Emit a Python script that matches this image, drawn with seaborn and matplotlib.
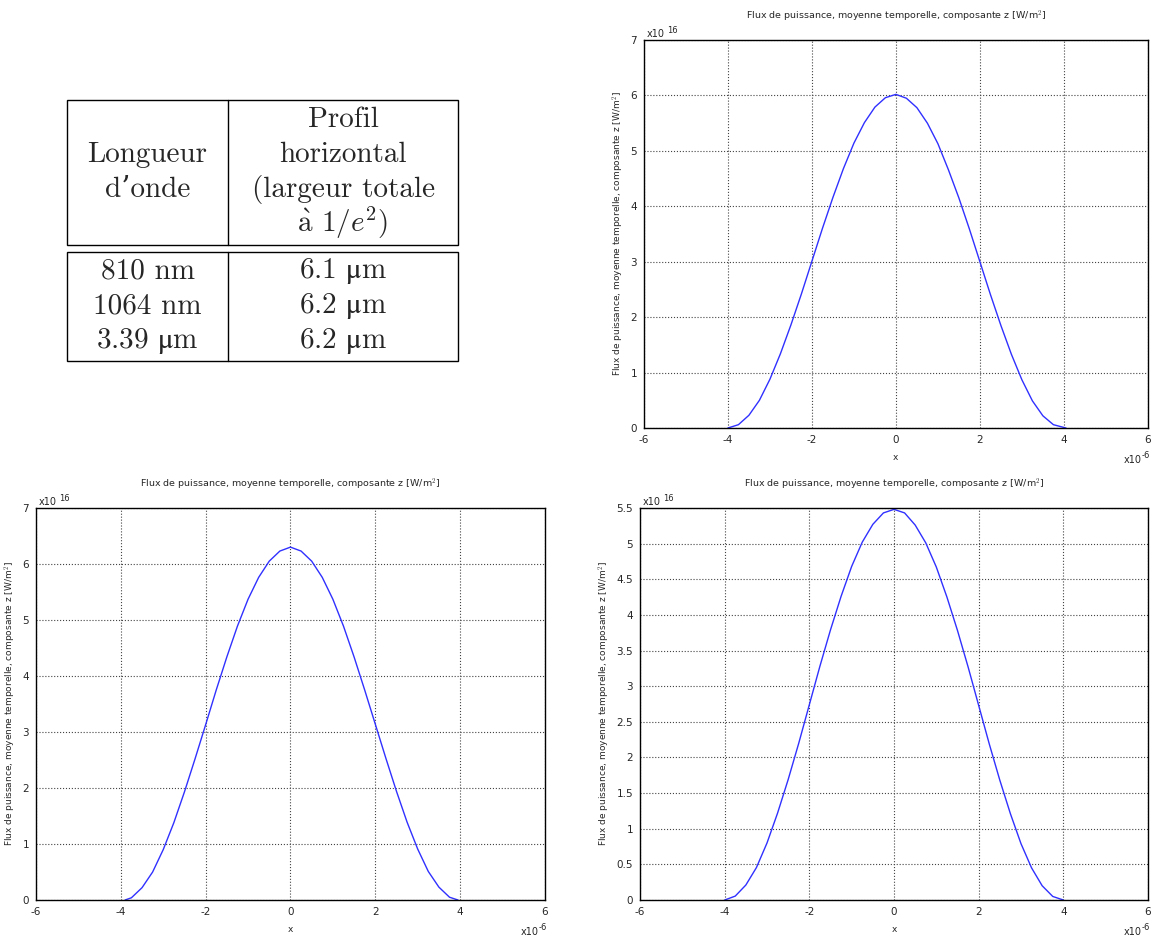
import numpy as np
import pandas as pd
import seaborn as sns
import matplotlib.pyplot as plt

# table content
col_headers = [["Longueur", "d\u2019onde"],
               ["Profil", "horizontal", "(largeur totale", "$\\grave{\\mathrm{a}}$ 1/$e^2$)"]]
wavelengths = ["810 nm", "1064 nm", "3.39 $\\mathrm{\\mu}$m"]
widths = ["6.1 $\\mathrm{\\mu}$m", "6.2 $\\mathrm{\\mu}$m", "6.2 $\\mathrm{\\mu}$m"]

# profiles (x in 1e-6 m, flux in 1e16 W/m^2)
x_a = [-4, -3.75, -3.5, -3.25, -3, -2.75, -2.5, -2.25, -2, -1.75, -1.5, -1.25, -1, -0.75, -0.5, -0.25, 0,
       0.25, 0.5, 0.75, 1, 1.25, 1.5, 1.75, 2, 2.25, 2.5, 2.75, 3, 3.25, 3.5, 3.75, 4.05]
flux_a = [0, 0.06, 0.23, 0.50, 0.88, 1.34, 1.86, 2.42, 3.01, 3.60, 4.16, 4.68, 5.14, 5.51, 5.79, 5.96, 6.02,
          5.95, 5.78, 5.50, 5.13, 4.66, 4.15, 3.59, 3.00, 2.41, 1.85, 1.33, 0.87, 0.49, 0.22, 0.06, 0]

x_b = [-3.9, -3.75, -3.5, -3.25, -3, -2.75, -2.5, -2.25, -2, -1.75, -1.5, -1.25, -1, -0.75, -0.5, -0.25, 0,
       0.25, 0.5, 0.75, 1, 1.25, 1.5, 1.75, 2, 2.25, 2.5, 2.75, 3, 3.25, 3.5, 3.75, 3.95]
flux_b = [0, 0.04, 0.22, 0.50, 0.90, 1.38, 1.93, 2.52, 3.13, 3.75, 4.34, 4.89, 5.37, 5.76, 6.05, 6.23, 6.30,
          6.23, 6.05, 5.76, 5.37, 4.89, 4.34, 3.75, 3.14, 2.53, 1.94, 1.39, 0.91, 0.51, 0.23, 0.05, 0]

x_c = [-4, -3.75, -3.5, -3.25, -3, -2.75, -2.5, -2.25, -2, -1.75, -1.5, -1.25, -1, -0.75, -0.5, -0.25, 0,
       0.25, 0.5, 0.75, 1, 1.25, 1.5, 1.75, 2, 2.25, 2.5, 2.75, 3, 3.25, 3.5, 3.75, 4]
flux_c = [0, 0.055, 0.21, 0.455, 0.80, 1.22, 1.69, 2.20, 2.74, 3.28, 3.79, 4.26, 4.68, 5.02, 5.27, 5.43, 5.48,
          5.43, 5.26, 5.01, 4.67, 4.25, 3.78, 3.27, 2.73, 2.19, 1.68, 1.21, 0.79, 0.45, 0.20, 0.05, 0]

xticks = [-6, -4, -2, 0, 2, 4, 6]
title = "Flux de puissance, moyenne temporelle, composante z [W/m$^2$]"

sns.set_style("white")
plt.rcParams['font.family'] = ['DejaVu Sans']
plt.rcParams['mathtext.fontset'] = 'cm'

fig = plt.figure(figsize=(11.54, 9.38), dpi=100)

# table
tax = fig.add_axes([0.0581, 0.6151, 0.3388, 0.2783])
tax.set_xlim(0, 1)
tax.set_ylim(0, 1)
tax.axis('off')
tfam = ['cmr10', 'DejaVu Serif']
tkw = dict(ha='center', va='baseline', fontsize=21, family=tfam, math_fontfamily='stix')
tax.add_patch(plt.Rectangle((0, 0.444), 1, 0.556, fill=False, lw=1, ec='black', clip_on=False))
tax.add_patch(plt.Rectangle((0, 0), 1, 0.418, fill=False, lw=1, ec='black', clip_on=False))
tax.plot([0.412, 0.412], [0.444, 1], color='black', lw=1, clip_on=False)
tax.plot([0.412, 0.412], [0, 0.418], color='black', lw=1, clip_on=False)
step = 0.1341
for i, line in enumerate(col_headers[0]):
    tax.text(0.206, 0.7636 - i * step, line, **tkw)
for i, line in enumerate(col_headers[1]):
    kw = dict(tkw)
    if '$e' in line:
        kw['math_fontfamily'] = 'cm'
    tax.text(0.706, 0.8977 - i * step, line, **kw)
for i, (wl, wd) in enumerate(zip(wavelengths, widths)):
    tax.text(0.206, 0.3169 - i * step, wl, **tkw)
    tax.text(0.706, 0.3169 - i * step, wd, **tkw)

panels = [
    ([0.558, 0.5437, 0.4367, 0.4136], x_a, flux_a, 7, list(range(0, 8))),
    ([0.0312, 0.0405, 0.441, 0.418], x_b, flux_b, 7, list(range(0, 8))),
    ([0.5546, 0.0405, 0.4402, 0.418], x_c, flux_c, 5.5, [i * 0.5 for i in range(12)]),
]

for pos, xs, ys, ymax, yticks in panels:
    ax = fig.add_axes(pos)
    df = pd.DataFrame({"x": xs, "flux": ys})
    sns.lineplot(data=df, x="x", y="flux", ax=ax, color='#3030ff', lw=1)
    ax.set_xlim(-6, 6)
    ax.set_ylim(0, ymax)
    ax.set_xticks(xticks)
    ax.set_yticks(yticks)
    ax.set_yticklabels([f"{t:g}" for t in yticks])
    ax.set_xticklabels([str(t) for t in xticks])
    ax.grid(True, linestyle=':', color='#444444', lw=0.8)
    ax.tick_params(length=0, labelsize=7.5, pad=5)
    for s in ax.spines.values():
        s.set_color('black')
        s.set_linewidth(1)
    ax.set_title(title, fontsize=6.8, pad=15)
    ax.set_xlabel("x", fontsize=6.5, labelpad=6)
    ax.set_ylabel(title, fontsize=6.5, labelpad=3)
    ax.text(0.005, 1.003, "x10", transform=ax.transAxes, fontsize=7, ha='left', va='bottom')
    ax.annotate("16", xy=(0.005, 1.003), xycoords='axes fraction', xytext=(15, 2.5),
                textcoords='offset points', fontsize=6, ha='left', va='bottom')
    ax.text(0.988, -0.07, "x10", transform=ax.transAxes, fontsize=7, ha='right', va='top')
    ax.annotate("-6", xy=(0.988, -0.07), xycoords='axes fraction', xytext=(0, 3),
                textcoords='offset points', fontsize=6, ha='left', va='top')

plt.savefig("out.png", dpi=100)
